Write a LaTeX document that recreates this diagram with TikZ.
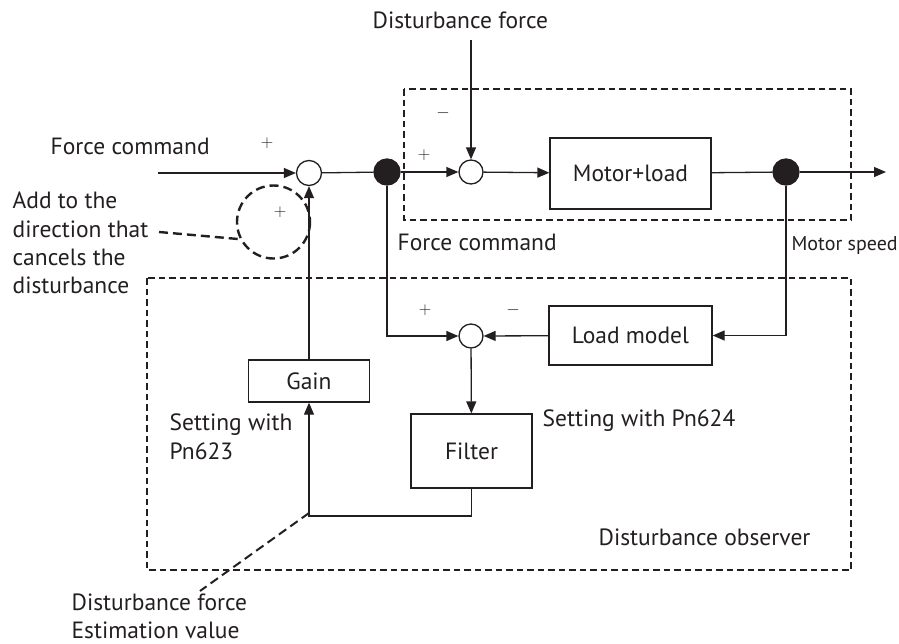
\documentclass[tikz,border=0pt]{standalone}
\usepackage{fontspec}
\setmainfont{PT Sans}
\usetikzlibrary{arrows.meta,calc}
\definecolor{ink}{HTML}{231F20}
\begin{document}
\begin{tikzpicture}[x=1pt,y=-1pt,
  line width=1.3pt, draw=ink, text=ink,
  every node/.style={font=\fontsize{23.5}{28}\selectfont},
  arr/.style={-{Triangle[length=12pt,width=10pt]}},
  sumnode/.style={circle,draw,fill=white,minimum size=24pt,inner sep=0pt},
  dotnode/.style={circle,draw,fill=ink,minimum size=26pt,inner sep=0pt},
  blk/.style={rectangle,draw,inner sep=0pt},
  dsh/.style={dash pattern=on 6.5pt off 4pt, line width=1.6pt},
  dshb/.style={dash pattern=on 9pt off 5pt, line width=2.4pt},
  lbl/.style={anchor=base west,inner sep=0pt},
  sgn/.style={inner sep=0pt,font=\fontsize{18}{18}\selectfont}
]
\useasboundingbox (0,0) rectangle (899,643);
% dashed boxes
\draw[dsh] (404,89) rectangle (851,220);
\draw[dsh] (147,278) rectangle (851,570);
% nodes
\coordinate (in) at (158,173);
\coordinate (dist) at (471,40);
\coordinate (out) at (886,172);
\node[sumnode,minimum size=25pt] (s1) at (309,173) {};
\node[dotnode] (d1) at (387,172) {};
\node[sumnode] (s2) at (471,172) {};
\node[blk,minimum width=161pt,minimum height=71pt] (ml) at (630.5,173.5) {Motor+load};
\node[dotnode] (d2) at (786,172) {};
\node[blk,minimum width=121pt,minimum height=42pt] (gain) at (309,381) {Gain};
\node[blk,minimum width=121pt,minimum height=74pt] (filter) at (471.5,451) {Filter};
\node[sumnode] (s3) at (471,336) {};
\node[blk,minimum width=163pt,minimum height=59pt] (lm) at (630.5,335.5) {Load model};
\coordinate (c1) at (309,516);
\coordinate (c2) at (309,513);
\coordinate (e1) at (200,591);
% connectors
\draw[arr] (in) -- (s1);
\draw (s1) -- (d1);
\draw[arr] (d1) -- (s2);
\draw[arr] (dist) -- (s2);
\draw[arr] (s2) -- (ml);
\draw (ml) -- (d2);
\draw[arr] (d2) -- (out);
\draw[arr] (d2) |- (lm);
\draw[arr] (d1) |- (s3);
\draw[arr] (lm) -- (s3);
\draw[arr] (s3) -- (filter);
\draw[arr] (filter.south) |- (c1) -- (gain.south);
\draw[arr] (gain) -- (s1);
% dashed annotations
\draw[dshb] (273.5,222) circle (36.5);
\coordinate (ca) at (159,232);
\coordinate (cb) at (238,239);
\draw[dshb] (ca) -- (cb);
\draw[dshb,line width=2pt] (c2) -- (e1);
% signs
\node[sgn] (p1) at (267,143) {$+$};
\node[sgn] (p2) at (280,212) {$+$};
\node[sgn] (p3) at (424,155) {$+$};
\node[sgn] (m1) at (443,113) {$-$};
\node[sgn] (p4) at (425,310) {$+$};
\node[sgn] (m2) at (513,310) {$-$};
% labels
\node[lbl] (t1) at (372,28) {Disturbance force};
\node[lbl] (t2) at (50,154) {Force command};
\node[lbl] (t3) at (397,250) {Force command};
\node[lbl,font=\fontsize{20}{24}\selectfont] (t4) at (791,250) {Motor speed};
\node[lbl] (t5) at (542,426) {Setting with Pn624};
\node[lbl] (t6) at (169,430) {Setting with};
\node[lbl] (t7) at (169,459) {Pn623};
\node[lbl] (t8) at (598,545) {Disturbance observer};
\node[lbl] (t9) at (71,610) {Disturbance force};
\node[lbl] (t10) at (71,638) {Estimation value};
\node[lbl] (a1) at (12,208) {Add to the};
\node[lbl] (a2) at (12,237) {direction that};
\node[lbl] (a3) at (12,265) {cancels the};
\node[lbl] (a4) at (12,293) {disturbance};
\end{tikzpicture}
\end{document}
